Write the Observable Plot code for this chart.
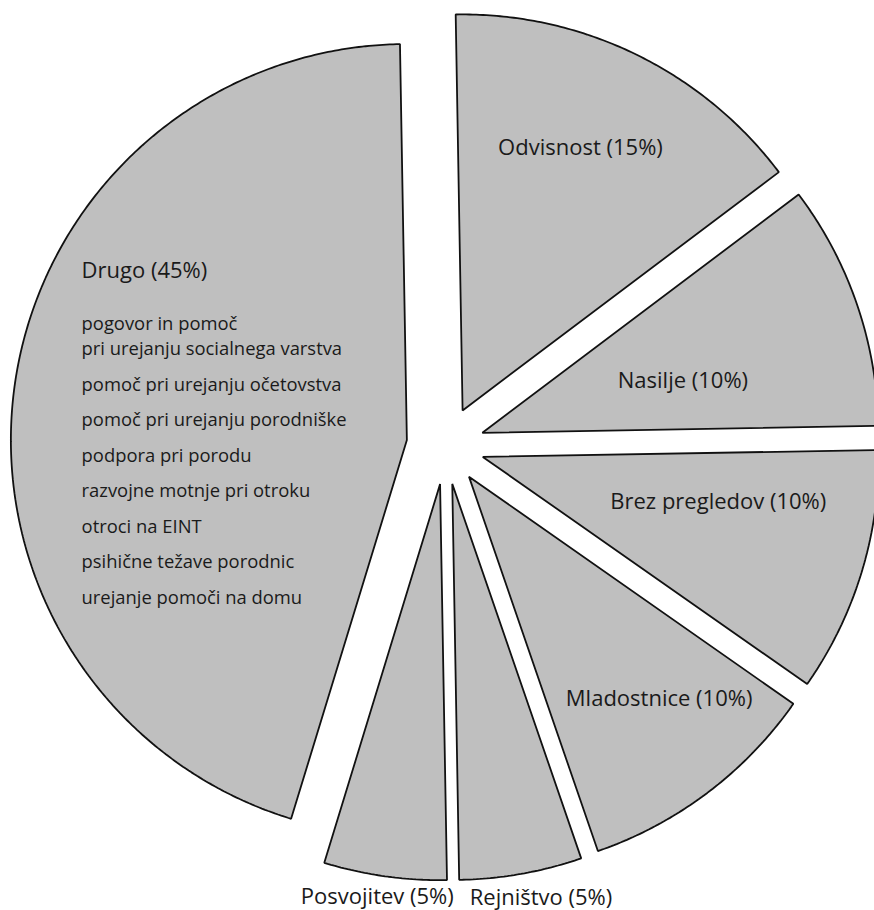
<!DOCTYPE html>
<html>
<head>
<meta charset="utf-8">
<script src="https://cdn.jsdelivr.net/npm/d3@7"></script>
<script src="https://cdn.jsdelivr.net/npm/@observablehq/plot@0.6"></script>
<style>
  html, body { margin: 0; padding: 0; background: #fff; overflow: hidden; }
  #chart svg { display: block; }
</style>
</head>
<body>
<div id="chart"></div>
<script>
// ---- data ----
const categories = ["Odvisnost", "Nasilje", "Brez pregledov", "Mladostnice", "Rejništvo", "Posvojitev", "Drugo"];
const shares = [15, 10, 10, 10, 5, 5, 45];
const drugoDetails = [
  "pogovor in pomoč\npri urejanju socialnega varstva",
  "pomoč pri urejanju očetovstva",
  "pomoč pri urejanju porodniške",
  "podpora pri porodu",
  "razvojne motnje pri otroku",
  "otroci na EINT",
  "psihične težave porodnic",
  "urejanje pomoči na domu"
];

// ---- layout / style ----
const W = 874, H = 910;
const CX = 445, CY = 445, R = 396, EXPLODE = 39;
const START = -1 * Math.PI / 180;
const FONT = "'Open Sans', 'Noto Sans', sans-serif";
const LABEL_SIZE = 22, DETAIL_SIZE = 18.4;
// label placement: [distance from slice apex, angle in degrees clockwise from north, text anchor]
const labelPlacement = [
  [281, 24.8, "middle"],
  [205.5, 77.4, "middle"],
  [241.2, 102.5, "middle"],
  [298.3, 140.4, "middle"],
  [430.3, 168.1, "middle"],
  [424.6, 188.5, "middle"],
  [363.5, 296.5, "start"]
];
const detailGap = 52, lineStep = 25.2, itemStep = 35.5;

// ---- geometry from data ----
const arcs = d3.pie().sort(null).startAngle(START).endAngle(START + 2 * Math.PI)(shares);
const pt = (ox, oy, r, a) => [ox + r * Math.sin(a), oy - r * Math.cos(a)];

const slicePts = [];
const labels = [];
arcs.forEach((arc, i) => {
  const mid = (arc.startAngle + arc.endAngle) / 2;
  const [ax, ay] = pt(CX, CY, EXPLODE, mid);
  const cat = categories[i];
  slicePts.push({cat, x: ax, y: ay});
  const steps = Math.max(8, Math.ceil((arc.endAngle - arc.startAngle) / (0.5 * Math.PI / 180)));
  for (let k = 0; k <= steps; k++) {
    const a = arc.startAngle + (arc.endAngle - arc.startAngle) * k / steps;
    const [x, y] = pt(ax, ay, R, a);
    slicePts.push({cat, x, y});
  }
  const [d, deg, anchor] = labelPlacement[i];
  const [lx, ly] = pt(ax, ay, d, deg * Math.PI / 180);
  labels.push({text: `${cat} (${shares[i]}%)`, x: lx, y: ly, anchor});
});

// details under "Drugo" (y = baseline of each item's last line)
const drugo = labels[labels.length - 1];
const detailRows = [];
let yy = drugo.y + detailGap;
drugoDetails.forEach((item) => {
  const n = item.split("\n").length;
  yy += (n - 1) * lineStep;
  detailRows.push({text: item, x: drugo.x, y: yy});
  yy += itemStep;
});

const chart = Plot.plot({
  width: W,
  height: H,
  margin: 0,
  x: {domain: [0, W], range: [0, W], axis: null},
  y: {domain: [0, H], range: [0, H], axis: null},
  style: {fontFamily: FONT, background: "#fff"},
  marks: [
    Plot.line(slicePts, {
      x: "x", y: "y", z: "cat",
      curve: "linear-closed",
      fill: "#bfbfbf",
      stroke: "#111",
      strokeWidth: 1.8,
      strokeLinejoin: "miter",
      clip: true
    }),
    Plot.text(labels.filter(d => d.anchor === "middle"), {
      x: "x", y: "y", text: "text",
      textAnchor: "middle", lineAnchor: "bottom",
      fontSize: LABEL_SIZE, fill: "#1a1a1a", fontFamily: FONT
    }),
    Plot.text(labels.filter(d => d.anchor === "start"), {
      x: "x", y: "y", text: "text",
      textAnchor: "start", lineAnchor: "bottom",
      fontSize: LABEL_SIZE, fill: "#1a1a1a", fontFamily: FONT
    }),
    Plot.text(detailRows, {
      x: "x", y: "y", text: "text",
      textAnchor: "start", lineAnchor: "bottom",
      lineHeight: lineStep / DETAIL_SIZE,
      fontSize: DETAIL_SIZE, fill: "#1a1a1a", fontFamily: FONT
    })
  ]
});
document.getElementById("chart").appendChild(chart);
</script>
</body>
</html>
